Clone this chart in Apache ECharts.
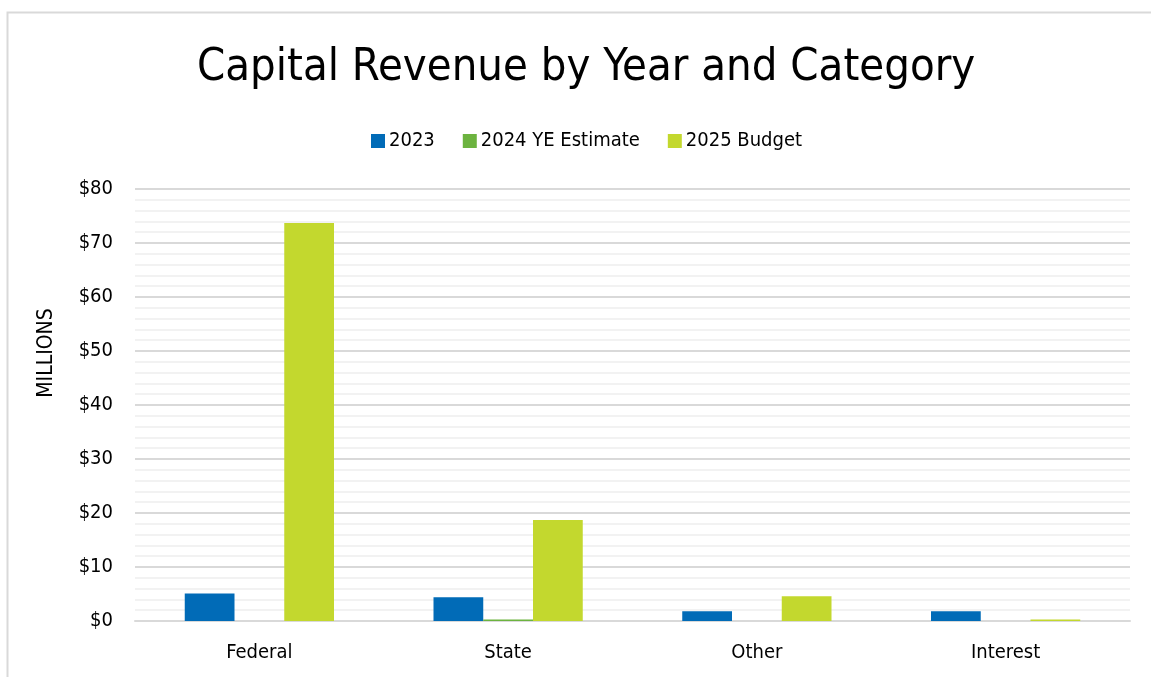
<!DOCTYPE html>
<html>
<head>
<meta charset="utf-8">
<script src="https://cdn.jsdelivr.net/npm/echarts@6/dist/echarts.min.js"></script>
<style>
  html, body { margin: 0; padding: 0; background: #fff; }
  #chart { width: 1151px; height: 677px; }
</style>
</head>
<body>
<div id="chart"></div>
<script>
// Capital revenue, in millions of dollars
const categories = ['Federal', 'State', 'Other', 'Interest'];
const seriesNames = ['2023', '2024 YE Estimate', '2025 Budget'];
const values2023 = [5.1, 4.4, 1.8, 1.8];
const values2024 = [0, 0.3, 0, 0];
const values2025 = [73.7, 18.7, 4.6, 0.3];
const yTicks = [0, 10, 20, 30, 40, 50, 60, 70, 80];

const colors = ['#016bb7', '#6cb33f', '#c3d82e'];
const FONT = '"DejaVu Sans Condensed", "Open Sans", sans-serif';

const chart = echarts.init(document.getElementById('chart'), null, { renderer: 'canvas' });

chart.setOption({
  animation: false,
  backgroundColor: '#fff',
  color: colors,
  title: {
    text: 'Capital Revenue by Year and Category',
    left: 192,
    top: 41,
    textStyle: { fontFamily: FONT, fontSize: 45, fontWeight: 'normal', color: '#000' }
  },
  legend: {
    top: 126,
    left: 366,
    itemWidth: 14,
    itemHeight: 14,
    itemGap: 28,
    icon: 'rect',
    textStyle: { fontFamily: FONT, fontSize: 20, color: '#000', padding: [0, 0, 0, -1] },
    data: seriesNames
  },
  grid: { left: 135, right: 21, top: 189, bottom: 56, containLabel: false },
  xAxis: {
    type: 'category',
    data: categories,
    axisLine: { lineStyle: { color: '#d9d9d9', width: 2 } },
    axisTick: { show: false },
    axisLabel: { fontFamily: FONT, fontSize: 20, color: '#000', margin: 22 }
  },
  yAxis: {
    type: 'value',
    min: yTicks[0],
    max: yTicks[yTicks.length - 1],
    interval: 10,
    axisLine: { show: false },
    axisTick: { show: false },
    axisLabel: {
      fontFamily: FONT, fontSize: 20, color: '#000', margin: 22,
      formatter: v => '$' + v
    },
    splitLine: { lineStyle: { color: '#d9d9d9', width: 2 } },
    minorTick: { show: false, splitNumber: 5 },
    minorSplitLine: { show: true, lineStyle: { color: '#f2f2f2', width: 2 } }
  },
  graphic: [
    {
      type: 'rect',
      shape: { x: 7.5, y: 12.5, width: 1200, height: 700 },
      style: { fill: 'none', stroke: '#d9d9d9', lineWidth: 2 },
      silent: true
    },
    {
      type: 'text',
      x: 47, y: 353,
      rotation: Math.PI / 2,
      style: {
        text: 'MILLIONS', fontFamily: FONT, fontSize: 21, fill: '#000',
        align: 'center', verticalAlign: 'middle'
      }
    }
  ],
  series: [
    { name: seriesNames[0], type: 'bar', data: values2023, barGap: '0%', barCategoryGap: '40%' },
    { name: seriesNames[1], type: 'bar', data: values2024 },
    { name: seriesNames[2], type: 'bar', data: values2025 }
  ]
});
</script>
</body>
</html>
